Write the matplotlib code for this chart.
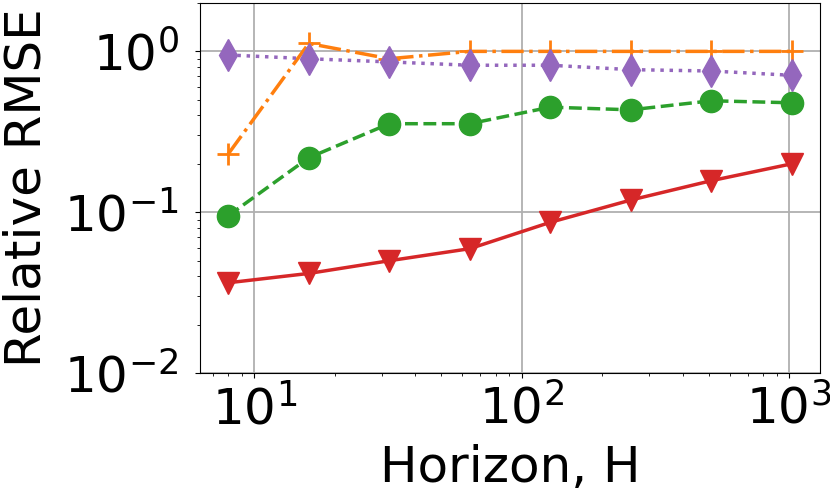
import numpy as np
import matplotlib
matplotlib.use('Agg')
import matplotlib.pyplot as plt

# horizons and relative RMSE
horizons = [8, 16, 32, 64, 128, 256, 512, 1024]
rmse_orange = [0.23, 1.12, 0.90, 1.0, 1.0, 1.0, 1.0, 1.0]
rmse_green = [0.095, 0.218, 0.355, 0.355, 0.45, 0.433, 0.493, 0.479]
rmse_red = [0.0364, 0.0416, 0.0499, 0.0593, 0.0865, 0.119, 0.157, 0.20]
rmse_purple = [0.95, 0.90, 0.86, 0.82, 0.82, 0.77, 0.755, 0.71]

plt.rcParams['font.size'] = 36
fig = plt.figure(figsize=(8.3, 4.96), dpi=100)
ax = fig.add_axes([0.241, 0.248, 0.747, 0.746])

lw = 2.5
ms = 16
ax.plot(horizons, rmse_orange, color='#ff7f0e', linestyle='-.', marker='+',
        markersize=ms, markeredgewidth=2, linewidth=lw)
ax.plot(horizons, rmse_green, color='#2ca02c', linestyle='--', marker='o',
        markersize=ms, linewidth=lw)
ax.plot(horizons, rmse_red, color='#d62728', linestyle='-', marker='v',
        markersize=ms, linewidth=lw)
ax.plot(horizons, rmse_purple, color='#9467bd', linestyle=':', marker='d',
        markersize=ms, linewidth=lw)

ax.set_xscale('log')
ax.set_yscale('log')
ax.set_ylim(0.01, 2)
ax.grid(True, which='major', color='#b0b0b0', linewidth=1.3)
ax.tick_params(axis='y', which='major', pad=12)
ax.tick_params(axis='x', which='major', pad=5)
ax.set_xlabel('Horizon, H', labelpad=7)
ax.set_ylabel('Relative RMSE', labelpad=10)

fig.savefig('out.png', dpi=100)
